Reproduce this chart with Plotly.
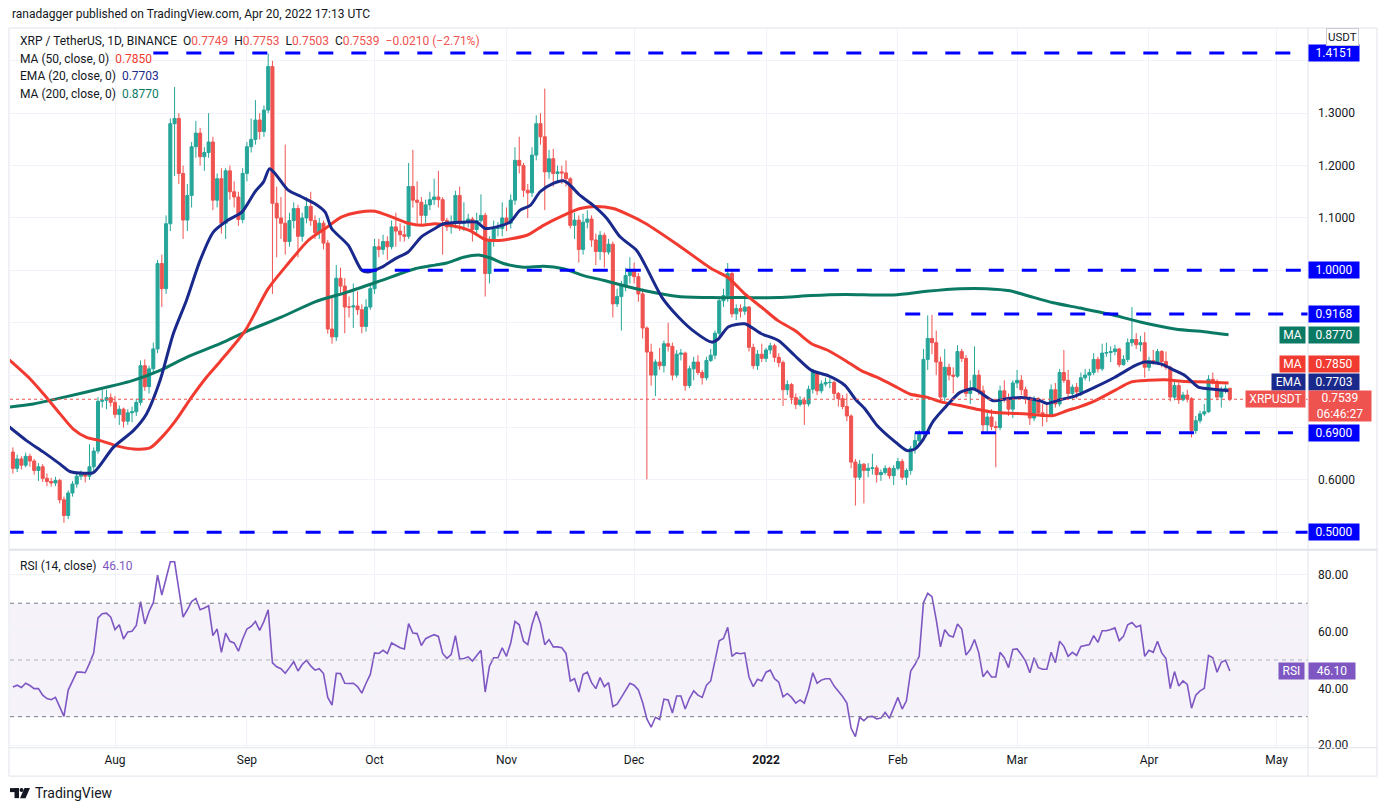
import pandas as pd
import plotly.graph_objects as go

# XRP / TetherUS daily candles (Jul 8 2021 .. Apr 20 2022)
dates = pd.date_range("2021-07-08", "2022-04-20", freq="D")
first_open = 0.653

closes = [
    # Jul
    0.622, 0.640, 0.628, 0.645, 0.636, 0.618, 0.625, 0.603, 0.597, 0.594, 0.599, 0.562, 0.532, 0.575,
    0.592, 0.607, 0.611, 0.607, 0.625, 0.655, 0.750, 0.752, 0.757, 0.748,
    # Aug
    0.725, 0.735, 0.712, 0.728, 0.730, 0.748, 0.818, 0.778, 0.812, 0.850, 1.013, 0.965, 1.089, 1.280,
    1.290, 1.185, 1.096, 1.143, 1.236, 1.262, 1.217, 1.225, 1.245, 1.134, 1.175, 1.090, 1.190, 1.150,
    1.140, 1.097, 1.185,
    # Sep
    1.236, 1.250, 1.287, 1.265, 1.306, 1.389, 1.128, 1.100, 1.090, 1.055, 1.095, 1.118, 1.065, 1.100,
    1.122, 1.095, 1.072, 1.090, 1.052, 0.888, 0.873, 0.985, 0.970, 0.930, 0.930, 0.932, 0.925, 0.893,
    0.930, 0.965,
    # Oct
    1.045, 1.040, 1.055, 1.045, 1.083, 1.075, 1.068, 1.065, 1.160, 1.134, 1.130, 1.105, 1.125, 1.135,
    1.140, 1.135, 1.095, 1.083, 1.090, 1.143, 1.090, 1.092, 1.098, 1.078, 1.095, 1.105, 0.994, 1.057,
    1.080, 1.080, 1.100,
    # Nov
    1.090, 1.134, 1.210, 1.200, 1.153, 1.148, 1.220, 1.280, 1.255, 1.188, 1.213, 1.185, 1.188, 1.186,
    1.175, 1.086, 1.096, 1.040, 1.092, 1.098, 1.058, 1.036, 1.067, 1.035, 1.050, 0.936, 0.950, 0.970,
    0.990, 1.000,
    # Dec
    0.988, 0.955, 0.890, 0.844, 0.800, 0.825, 0.818, 0.860, 0.855, 0.800, 0.840, 0.842, 0.780, 0.812,
    0.825, 0.805, 0.795, 0.828, 0.838, 0.880, 0.942, 0.952, 0.994, 0.917, 0.927, 0.922, 0.930, 0.853,
    0.818, 0.840, 0.832,
    # Jan
    0.848, 0.856, 0.834, 0.824, 0.772, 0.782, 0.757, 0.744, 0.752, 0.745, 0.773, 0.805, 0.770, 0.783,
    0.786, 0.786, 0.765, 0.755, 0.740, 0.722, 0.634, 0.605, 0.630, 0.618, 0.622, 0.623, 0.610, 0.614,
    0.622, 0.608, 0.622,
    # Feb
    0.635, 0.605, 0.618, 0.660, 0.675, 0.690, 0.830, 0.870, 0.862, 0.825, 0.758, 0.815, 0.800, 0.798,
    0.845, 0.832, 0.765, 0.775, 0.800, 0.770, 0.705, 0.720, 0.702, 0.700, 0.770, 0.757, 0.735, 0.785,
    # Mar
    0.790, 0.772, 0.755, 0.718, 0.755, 0.728, 0.722, 0.722, 0.772, 0.745, 0.805, 0.790, 0.765, 0.777,
    0.768, 0.795, 0.800, 0.805, 0.830, 0.812, 0.842, 0.843, 0.845, 0.850, 0.820, 0.830, 0.862, 0.868,
    0.858, 0.862, 0.815,
    # Apr
    0.828, 0.825, 0.845, 0.826, 0.815, 0.758, 0.780, 0.753, 0.762, 0.755, 0.694, 0.713, 0.726, 0.730,
    0.792, 0.788, 0.758, 0.772, 0.7749, 0.7539,
]

highs = [
    0.662, 0.648, 0.645, 0.652, 0.650, 0.640, 0.632, 0.630, 0.612, 0.604, 0.606, 0.602, 0.568, 0.580,
    0.598, 0.612, 0.618, 0.614, 0.668, 0.662, 0.758, 0.772, 0.772, 0.765,
    0.760, 0.742, 0.738, 0.735, 0.740, 0.755, 0.828, 0.830, 0.818, 0.862, 1.020, 1.030, 1.105, 1.290,
    1.350, 1.300, 1.200, 1.165, 1.245, 1.285, 1.272, 1.235, 1.300, 1.255, 1.185, 1.195, 1.195, 1.200,
    1.170, 1.150, 1.195,
    1.245, 1.290, 1.325, 1.300, 1.315, 1.414, 1.400, 1.160, 1.140, 1.240, 1.110, 1.130, 1.125, 1.110,
    1.140, 1.150, 1.105, 1.100, 1.095, 1.058, 0.950, 1.010, 1.005, 0.985, 0.950, 0.975, 0.960, 0.935,
    0.945, 0.975,
    1.060, 1.060, 1.068, 1.065, 1.095, 1.110, 1.090, 1.085, 1.205, 1.230, 1.170, 1.140, 1.135, 1.150,
    1.175, 1.190, 1.140, 1.100, 1.105, 1.152, 1.160, 1.130, 1.108, 1.102, 1.110, 1.145, 1.110, 1.065,
    1.095, 1.092, 1.130,
    1.120, 1.145, 1.235, 1.255, 1.205, 1.165, 1.235, 1.296, 1.300, 1.347, 1.230, 1.232, 1.200, 1.200,
    1.210, 1.178, 1.110, 1.105, 1.108, 1.115, 1.105, 1.070, 1.075, 1.072, 1.060, 1.055, 0.965, 0.980,
    1.005, 1.025,
    1.015, 0.995, 0.965, 0.893, 0.860, 0.830, 0.852, 0.866, 0.900, 0.862, 0.848, 0.850, 0.845, 0.818,
    0.835, 0.838, 0.810, 0.835, 0.850, 0.885, 0.950, 0.965, 1.014, 1.000, 0.935, 0.935, 0.950, 0.932,
    0.860, 0.848, 0.860,
    0.852, 0.862, 0.860, 0.842, 0.828, 0.790, 0.785, 0.765, 0.760, 0.758, 0.780, 0.812, 0.806, 0.790,
    0.795, 0.794, 0.790, 0.768, 0.762, 0.765, 0.725, 0.640, 0.638, 0.632, 0.632, 0.650, 0.628, 0.620,
    0.628, 0.625, 0.628,
    0.642, 0.640, 0.622, 0.665, 0.690, 0.695, 0.850, 0.914, 0.915, 0.885, 0.835, 0.850, 0.822, 0.815,
    0.857, 0.850, 0.838, 0.790, 0.855, 0.810, 0.780, 0.730, 0.735, 0.712, 0.780, 0.790, 0.765, 0.790,
    0.810, 0.800, 0.778, 0.760, 0.760, 0.758, 0.745, 0.748, 0.782, 0.785, 0.812, 0.848, 0.810, 0.782,
    0.785, 0.805, 0.812, 0.812, 0.842, 0.835, 0.860, 0.862, 0.855, 0.858, 0.852, 0.838, 0.870, 0.930,
    0.880, 0.875, 0.882,
    0.835, 0.848, 0.850, 0.848, 0.845, 0.818, 0.790, 0.786, 0.768, 0.772, 0.758, 0.722, 0.732, 0.745,
    0.800, 0.805, 0.792, 0.778, 0.782, 0.7753,
]

lows = [
    0.612, 0.615, 0.620, 0.624, 0.625, 0.610, 0.598, 0.596, 0.588, 0.587, 0.588, 0.555, 0.518, 0.525,
    0.568, 0.585, 0.600, 0.595, 0.600, 0.615, 0.650, 0.738, 0.735, 0.740,
    0.718, 0.705, 0.700, 0.705, 0.710, 0.722, 0.742, 0.770, 0.765, 0.805, 0.842, 0.930, 0.955, 1.075,
    1.180, 1.165, 1.060, 1.075, 1.120, 1.215, 1.200, 1.190, 1.215, 1.115, 1.120, 1.070, 1.060, 1.135,
    1.120, 1.085, 1.090,
    1.170, 1.225, 1.240, 1.250, 1.255, 1.300, 0.955, 1.025, 1.060, 1.030, 1.045, 1.080, 1.025, 1.055,
    1.090, 1.085, 1.060, 1.060, 1.040, 0.879, 0.860, 0.865, 0.955, 0.880, 0.910, 0.890, 0.915, 0.880,
    0.883, 0.925,
    0.955, 1.025, 1.030, 1.020, 1.040, 1.045, 1.055, 1.055, 1.060, 1.120, 1.090, 1.085, 1.090, 1.115,
    1.125, 1.120, 1.030, 1.075, 1.070, 1.080, 1.075, 1.075, 1.082, 1.055, 1.070, 1.090, 0.950, 0.975,
    1.045, 1.065, 1.065,
    1.075, 1.080, 1.125, 1.185, 1.140, 1.100, 1.140, 1.210, 1.240, 1.115, 1.175, 1.160, 1.170, 1.165,
    1.160, 1.080, 1.060, 1.015, 1.030, 1.080, 1.045, 1.010, 1.020, 1.005, 1.030, 0.910, 0.930, 0.885,
    0.960, 0.975,
    0.975, 0.940, 0.870, 0.601, 0.780, 0.760, 0.810, 0.805, 0.845, 0.790, 0.795, 0.828, 0.770, 0.775,
    0.790, 0.800, 0.782, 0.790, 0.825, 0.830, 0.870, 0.930, 0.940, 0.910, 0.905, 0.910, 0.915, 0.845,
    0.812, 0.810, 0.825,
    0.825, 0.840, 0.825, 0.815, 0.741, 0.762, 0.745, 0.735, 0.740, 0.705, 0.740, 0.765, 0.762, 0.765,
    0.778, 0.775, 0.755, 0.740, 0.735, 0.712, 0.622, 0.551, 0.600, 0.555, 0.605, 0.610, 0.595, 0.598,
    0.610, 0.602, 0.590,
    0.618, 0.600, 0.590, 0.610, 0.650, 0.665, 0.680, 0.810, 0.840, 0.800, 0.750, 0.750, 0.790, 0.765,
    0.795, 0.825, 0.758, 0.745, 0.770, 0.762, 0.690, 0.690, 0.695, 0.624, 0.695, 0.748, 0.722, 0.718,
    0.775, 0.762, 0.745, 0.705, 0.712, 0.722, 0.702, 0.710, 0.720, 0.738, 0.740, 0.785, 0.758, 0.752,
    0.755, 0.760, 0.790, 0.788, 0.800, 0.805, 0.808, 0.835, 0.825, 0.838, 0.815, 0.818, 0.825, 0.855,
    0.850, 0.845, 0.795,
    0.808, 0.820, 0.820, 0.815, 0.810, 0.750, 0.752, 0.745, 0.750, 0.748, 0.681, 0.688, 0.708, 0.722,
    0.728, 0.782, 0.752, 0.738, 0.765, 0.7503,
]

# RSI (14, close), one value per candle
rsi = [
    40.5, 41.1, 40.3, 41.8, 41.0, 39.9, 39.9, 37.6, 36.4, 36.0, 36.8, 33.3, 30.1, 39.4, 42.6, 45.7,
    45.7, 45.5, 48.8, 52.5, 64.8, 66.3, 66.5, 65.1,
    60.7, 62.4, 57.4, 59.9, 60.1, 62.2, 70.6, 62.7, 67.1, 70.2, 79.9, 72.9, 78.7, 84.6, 84.6, 74.7,
    65.1, 67.7, 70.6, 71.7, 67.7, 68.3, 69.1, 58.6, 60.9, 52.7, 59.5, 56.6, 56.0, 53.1, 57.4,
    60.9, 61.8, 63.6, 60.4, 63.6, 67.7, 49.0, 47.6, 46.9, 45.3, 47.3, 49.4, 46.1, 48.4, 49.9, 47.9,
    46.4, 46.9, 45.2, 36.8, 34.1, 45.3, 45.2, 41.8, 41.7, 41.8, 40.6, 38.3, 41.8, 44.9,
    52.5, 52.3, 53.4, 52.3, 56.0, 55.2, 54.3, 53.9, 62.8, 59.5, 59.3, 55.1, 57.5, 58.3, 58.9, 58.3,
    52.3, 50.6, 51.9, 58.6, 50.4, 50.5, 51.1, 49.6, 51.6, 53.4, 38.7, 47.8, 50.8, 50.8, 54.3,
    51.3, 56.0, 63.6, 62.4, 56.6, 55.4, 62.4, 67.1, 62.8, 55.4, 57.2, 54.6, 54.6, 54.3, 52.3, 42.6,
    43.4, 38.7, 44.9, 45.7, 42.0, 39.9, 43.8, 40.6, 42.0, 33.6, 34.4, 36.8, 39.4, 41.8,
    41.1, 39.4, 35.0, 29.2, 26.3, 29.8, 29.0, 36.2, 35.9, 31.3, 37.3, 37.3, 32.7, 36.4, 39.1, 37.6,
    36.8, 41.1, 42.6, 49.6, 56.8, 57.6, 61.5, 51.3, 52.5, 52.2, 52.5, 44.0, 40.6, 43.2, 42.6,
    45.7, 46.4, 43.4, 42.2, 37.0, 38.2, 36.8, 34.8, 35.9, 34.8, 39.4, 45.5, 41.8, 42.9, 43.4, 43.4,
    40.8, 39.1, 37.1, 34.8, 25.9, 23.0, 29.8, 28.6, 30.0, 30.1, 29.2, 29.5, 31.5, 29.4, 32.9,
    36.8, 32.7, 35.6, 46.1, 48.4, 51.3, 70.2, 73.5, 72.3, 64.2, 54.6, 60.7, 58.6, 58.1, 62.7, 60.9,
    51.7, 53.7, 57.2, 52.5, 44.1, 46.1, 44.0, 44.0, 52.7, 50.8, 47.3, 53.7,
    53.9, 51.9, 49.6, 45.5, 50.8, 47.3, 46.7, 46.7, 52.7, 49.0, 56.6, 54.8, 51.3, 52.7, 51.6, 54.8,
    55.1, 55.4, 58.6, 56.2, 60.3, 60.3, 60.7, 61.3, 56.8, 58.3, 62.4, 63.2, 61.6, 62.2, 51.3,
    53.4, 52.7, 56.6, 52.5, 50.5, 39.9, 45.9, 40.8, 42.6, 41.4, 33.0, 37.6, 39.1, 40.0, 51.6, 50.8,
    45.7, 49.2, 49.9, 46.1,
]

# moving averages, sampled along the drawn curves (day offset from 2021-08-01, value)
ma50_day = [-25, -20, -16.8, -12.9, -9.8, -6.7, -3.5, 0.4, 4.3, 8.2, 11.4, 14.5, 18, 21.5, 24.7,
            30.6, 36, 40.7, 45.4, 49.4, 53.3, 57.2, 61.1, 65, 68.9, 72, 75.2, 78.7, 83.4, 87, 89.7,
            92.8, 96.8, 100.7, 105.4, 109.3, 113.2, 117.1, 121, 124.6, 132.4, 140.2, 144, 148, 151.9,
            155.8, 159.8, 163.7, 167.6, 171.6, 175.5, 179, 183, 186.8, 190.7, 194.6, 198.6, 202.5,
            206.4, 210.3, 214.3, 218.2, 220.5, 223.7, 226.8, 230.3, 235, 238.9, 242.8, 246.7, 251.5,
            257, 261.7]
ma50 = [0.830, 0.793, 0.764, 0.726, 0.697, 0.681, 0.675, 0.665, 0.659, 0.661, 0.685, 0.716, 0.758,
        0.796, 0.826, 0.885, 0.965, 1.013, 1.057, 1.080, 1.102, 1.111, 1.113, 1.102, 1.090, 1.086,
        1.089, 1.086, 1.076, 1.059, 1.057, 1.060, 1.067, 1.086, 1.105, 1.118, 1.122, 1.118, 1.105,
        1.090, 1.048, 1.003, 0.987, 0.955, 0.930, 0.904, 0.885, 0.860, 0.847, 0.828, 0.808, 0.796,
        0.780, 0.764, 0.758, 0.748, 0.742, 0.735, 0.729, 0.727, 0.726, 0.723, 0.723, 0.732, 0.740,
        0.751, 0.771, 0.787, 0.790, 0.791, 0.788, 0.787, 0.7850]

ema20_day = [-25, -20.8, -16.8, -12.9, -10.6, -8.2, -5.1, -3.5, -0.4, 4.3, 7.4, 10.6, 13.7, 16.8,
             20, 23.1, 26.6, 29.8, 32.9, 34.9, 36.3, 37.6, 40.7, 43.9, 47, 49.4, 50.9, 54.8, 58,
             59.5, 62.7, 65.8, 68.9, 72, 75.2, 77.2, 81.9, 85, 87, 89.7, 92.8, 95.2, 97.6, 99.9, 103,
             105.4, 106.9, 109.3, 112.4, 115.6, 118.7, 122.6, 124.6, 128.5, 132.4, 136.3, 140.2,
             141.8, 144.1, 148, 151.9, 155.9, 159.8, 163.7, 167.6, 171.6, 173.9, 176.3, 179, 183,
             186.1, 188, 190, 192.3, 195.5, 198.6, 201.7, 203.3, 206.4, 209.6, 213.5, 217.4, 219,
             222.1, 225.6, 230.3, 235, 239.7, 242, 245.9, 249, 251.5, 254.6, 257, 261.7]
ema20 = [0.702, 0.675, 0.653, 0.630, 0.616, 0.613, 0.614, 0.628, 0.662, 0.694, 0.726, 0.790, 0.879,
         0.943, 1.019, 1.073, 1.096, 1.111, 1.150, 1.169, 1.194, 1.185, 1.153, 1.140, 1.127, 1.111,
         1.080, 1.048, 1.000, 0.997, 1.006, 1.022, 1.035, 1.064, 1.080, 1.089, 1.092, 1.092, 1.080,
         1.083, 1.092, 1.115, 1.124, 1.150, 1.166, 1.171, 1.163, 1.143, 1.124, 1.099, 1.064, 1.038,
         1.010, 0.949, 0.911, 0.882, 0.863, 0.869, 0.892, 0.898, 0.879, 0.866, 0.837, 0.809, 0.799,
         0.780, 0.755, 0.735, 0.705, 0.675, 0.656, 0.659, 0.678, 0.712, 0.742, 0.767, 0.774, 0.767,
         0.751, 0.755, 0.757, 0.751, 0.746, 0.753, 0.760, 0.777, 0.796, 0.818, 0.825, 0.821, 0.809,
         0.799, 0.777, 0.774, 0.7703]

ma200_day = [-25, -19.2, -11.4, -3.5, 4.3, 10.6, 16.8, 24.7, 31.3, 39.2, 47, 54.8, 62.7, 70.5,
             75.2, 78, 81.9, 85.8, 88.1, 91.3, 96, 100.7, 105.4, 110.1, 114.8, 119.5, 124.6, 132.4,
             140.2, 148, 155.9, 163.7, 171.6, 183, 190.7, 198.6, 204.8, 210.3, 214.3, 220.5, 226.8,
             233.4, 241.2, 249.1, 257, 261.7]
ma200 = [0.739, 0.745, 0.759, 0.774, 0.790, 0.809, 0.834, 0.860, 0.885, 0.911, 0.940, 0.959, 0.981,
         1.003, 1.010, 1.014, 1.025, 1.029, 1.024, 1.013, 1.006, 1.008, 1.003, 0.990, 0.981, 0.971,
         0.961, 0.950, 0.948, 0.948, 0.948, 0.952, 0.954, 0.953, 0.960, 0.965, 0.965, 0.961, 0.952,
         0.938, 0.928, 0.917, 0.901, 0.888, 0.882, 0.8770]

# horizontal levels drawn by the author and where each starts
levels = [1.4151, 1.0, 0.9168, 0.69, 0.5]
level_from = ["2021-08-10", "2021-09-28", "2022-02-02 17:00", "2022-02-05", "2021-07-07"]

price_ticks = [0.5, 0.6, 0.7, 0.8, 0.9, 1.0, 1.1, 1.2, 1.3, 1.4]
# ticks sitting under a price tag are hidden, as on the chart
price_tick_text = ["", "0.6000", "", "", "", "", "1.1000", "1.2000", "1.3000", ""]
rsi_ticks = [20, 40, 60, 80]
month_ticks = ["2021-08-01", "2021-09-01", "2021-10-01", "2021-11-01", "2021-12-01",
               "2022-01-01", "2022-02-01", "2022-03-01", "2022-04-01", "2022-05-01"]
month_labels = ["Aug", "Sep", "Oct", "Nov", "Dec", "<b>2022</b>", "Feb", "Mar", "Apr", "May"]

assert len(closes) == len(highs) == len(lows) == len(rsi) == len(dates)

opens = [first_open] + closes[:-1]
base = pd.Timestamp("2021-08-01")
to_dates = lambda days: [base + pd.Timedelta(days=d) for d in days]

# the page body has an 8px margin, so the figure is sized and placed to fill the window
OFF = 8
W, H = 1386 - OFF, 810 - OFF
SY = 1.0065  # small vertical stretch measured against the reference
def px(x):
    return (x - OFF) / W
def py(y):
    return 1 - (14 + (y - 14) * SY - OFF) / H

UP, DOWN = "#26a69a", "#ef5350"
C_MA50, C_EMA, C_MA200 = "#f23b30", "#1a2a8c", "#0b7a64"
C_RSI, BLUE, GRID, FRAME = "#7e57c2", "#0000ff", "#f0f3fa", "#e0e3eb"
TXT = "#131722"
FONT = "Roboto, Liberation Sans, sans-serif"

x_range = ["2021-07-07 07:40", "2022-05-08 09:00"]
price_range = [0.4685, 1.4627]
rsi_range = [19.05, 88.5]

fig = go.Figure()
fig.add_trace(go.Candlestick(
    x=dates, open=opens, high=highs, low=lows, close=closes,
    increasing=dict(line=dict(color=UP, width=1), fillcolor=UP),
    decreasing=dict(line=dict(color=DOWN, width=1), fillcolor=DOWN),
    whiskerwidth=0, xaxis="x", yaxis="y", hoverinfo="skip"))

for days, vals, col in [(ma200_day, ma200, C_MA200), (ma50_day, ma50, C_MA50), (ema20_day, ema20, C_EMA)]:
    fig.add_trace(go.Scatter(x=to_dates(days), y=vals, mode="lines", xaxis="x", yaxis="y",
                             line=dict(color=col, width=3, shape="spline", smoothing=0.7),
                             hoverinfo="skip"))

fig.add_trace(go.Scatter(x=dates, y=rsi, mode="lines", xaxis="x2", yaxis="y2",
                         line=dict(color=C_RSI, width=1.6), hoverinfo="skip"))

shapes = []
# author's level lines
for lv, start in zip(levels, level_from):
    shapes.append(dict(type="line", xref="x", yref="y", x0=start, x1=x_range[1], y0=lv, y1=lv,
                       line=dict(color=BLUE, width=3, dash="15px,18px")))
# last price
shapes.append(dict(type="line", xref="x domain", yref="y", x0=0, x1=1, y0=closes[-1], y1=closes[-1],
                   line=dict(color=DOWN, width=1, dash="dot")))
# RSI band and guides
shapes.append(dict(type="rect", xref="x2 domain", yref="y2", x0=0, x1=1, y0=30, y1=70,
                   fillcolor="rgba(126,87,194,0.08)", line=dict(width=0), layer="below"))
for lv, col in [(70, "#787b86"), (50, "#b2b5be"), (30, "#787b86")]:
    shapes.append(dict(type="line", xref="x2 domain", yref="y2", x0=0, x1=1, y0=lv, y1=lv,
                       line=dict(color=col, width=1, dash="4px,4px")))
# frame
for x0, y0, x1, y1, w in [(9, 28, 1377, 28, 1), (9, 549, 1377, 549, 2), (9, 746.7, 1377, 746.7, 1),
                          (9, 775, 1377, 775, 1), (9, 28, 9, 775, 1), (1377, 28, 1377, 775, 1),
                          (1308, 28, 1308, 775, 1)]:
    shapes.append(dict(type="line", xref="paper", yref="paper", x0=px(x0), x1=px(x1),
                       y0=py(y0), y1=py(y1), line=dict(color=FRAME, width=w)))
# TradingView logo mark
shapes.append(dict(type="rect", xref="paper", yref="paper", x0=px(10), x1=px(19), y0=py(791), y1=py(787),
                   fillcolor=TXT, line=dict(width=0)))
shapes.append(dict(type="rect", xref="paper", yref="paper", x0=px(14.5), x1=px(19), y0=py(797), y1=py(787),
                   fillcolor=TXT, line=dict(width=0)))
shapes.append(dict(type="circle", xref="paper", yref="paper", x0=px(19.5), x1=px(23.5), y0=py(791), y1=py(787),
                   fillcolor=TXT, line=dict(width=0)))
shapes.append(dict(type="path", xref="paper", yref="paper",
                   path=f"M {px(24.5)},{py(787)} L {px(30)},{py(787)} L {px(25.5)},{py(797)} L {px(20)},{py(797)} Z",
                   fillcolor=TXT, line=dict(width=0)))

ann = []
def text(x, y, s, size=12, color=TXT, anchor="left"):
    ann.append(dict(xref="paper", yref="paper", x=px(x), y=py(y), text=s, showarrow=False,
                    xanchor=anchor, yanchor="middle", font=dict(size=size, color=color, family=FONT)))

def red(v):
    return f'<span style="color:{DOWN}">{v}</span>'

sp = "\u00a0"
chg = closes[-1] - closes[-2]
pct = chg / closes[-2] * 100
text(10, 14, "ranadagger published on TradingView.com, Apr 20, 2022 17:13 UTC", size=12)
text(18, 41, f"XRP / TetherUS, 1D, BINANCE{sp}{sp}O{red(f'{opens[-1]:.4f}')}{sp}{sp}"
             f"H{red(f'{highs[-1]:.4f}')}{sp}{sp}L{red(f'{lows[-1]:.4f}')}{sp}{sp}"
             f"C{red(f'{closes[-1]:.4f}')}{sp}{sp}"
             + red(f"{chg:+.4f} ({pct:+.2f}%)".replace("-", "\u2212")))
text(18, 59, f'MA (50, close, 0){sp}{sp}<span style="color:{C_MA50}">{ma50[-1]:.4f}</span>')
text(18, 76, f'EMA (20, close, 0){sp}{sp}<span style="color:{C_EMA}">{ema20[-1]:.4f}</span>')
text(18, 94, f'MA (200, close, 0){sp}{sp}<span style="color:{C_MA200}">{ma200[-1]:.4f}</span>')
text(18, 565, f'RSI (14, close){sp}{sp}<span style="color:{C_RSI}">{rsi[-1]:.2f}</span>')
text(33, 792, "TradingView", size=14)

def tag(x, yval, s, bg, yref="y", anchor="left", width=48, height=14, fsize=12):
    ann.append(dict(xref="paper", yref=yref, x=px(x), y=yval, text=s, showarrow=False,
                    xanchor=anchor, yanchor="middle", bgcolor=bg, width=width, height=height,
                    borderpad=1, align="center", font=dict(size=fsize, color="white", family=FONT)))

for lv in levels:
    tag(1308, lv, f"{lv:.4f}", BLUE)
# indicator tags (stacked so they do not overlap, as on the chart)
tag(1306, ma200[-1], "MA", C_MA200, anchor="right", width=23)
tag(1308, ma200[-1], f"{ma200[-1]:.4f}", C_MA200)
tag(1306, 0.8205, "MA", C_MA50, anchor="right", width=23)
tag(1308, 0.8205, f"{ma50[-1]:.4f}", C_MA50)
tag(1306, 0.7870, "EMA", C_EMA, anchor="right", width=31)
tag(1308, 0.7870, f"{ema20[-1]:.4f}", C_EMA)
tag(1306, closes[-1], "XRPUSDT", DOWN, anchor="right", width=57)
tag(1308, 0.7415, f"{closes[-1]:.4f}<br>06:46:27", DOWN, width=60, height=28)
tag(1305, rsi[-1], "RSI", C_RSI, yref="y2", anchor="right", width=23)
tag(1308, rsi[-1], f"{rsi[-1]:.2f}", C_RSI, yref="y2", width=44)
ann.append(dict(xref="paper", yref="paper", x=px(1342), y=py(37), text="USDT", showarrow=False,
                xanchor="center", yanchor="middle", bgcolor="white", bordercolor="#c9ccd4",
                borderwidth=1, borderpad=1, font=dict(size=11.5, color=TXT, family=FONT)))

axis_font = dict(size=12, color=TXT, family=FONT)
fig.update_layout(
    width=W, height=H, margin=dict(l=0, r=0, t=0, b=0),
    paper_bgcolor="white", plot_bgcolor="white", showlegend=False,
    font=dict(family=FONT, size=12, color=TXT),
    boxgap=0.25, boxgroupgap=0.05,
    shapes=shapes, annotations=ann,
    xaxis=dict(domain=[px(10), px(1308)], anchor="y", type="date", range=x_range,
               rangeslider=dict(visible=False), tickvals=month_ticks, showticklabels=False,
               showgrid=True, gridcolor=GRID, zeroline=False, showline=False, fixedrange=True),
    xaxis2=dict(domain=[px(10), px(1308)], anchor="y2", type="date", range=x_range,
                tickvals=month_ticks, ticktext=month_labels, showgrid=True, gridcolor=GRID,
                zeroline=False, showline=False, ticks="", tickfont=axis_font, ticklabelstandoff=3,
                fixedrange=True),
    yaxis=dict(domain=[py(548), py(28)], anchor="x", side="right", range=price_range,
               tickvals=price_ticks, ticktext=price_tick_text, showgrid=True, gridcolor=GRID,
               zeroline=False, showline=False, ticks="", tickfont=axis_font, ticklabelstandoff=9,
               fixedrange=True),
    yaxis2=dict(domain=[py(746.7), py(550)], anchor="x2", side="right", range=rsi_range,
                tickvals=rsi_ticks, tickformat=".2f", showgrid=True, gridcolor=GRID,
                zeroline=False, showline=False, ticks="", tickfont=axis_font, ticklabelstandoff=9,
                fixedrange=True),
)

fig.write_html("out.html", config={"displayModeBar": False})
